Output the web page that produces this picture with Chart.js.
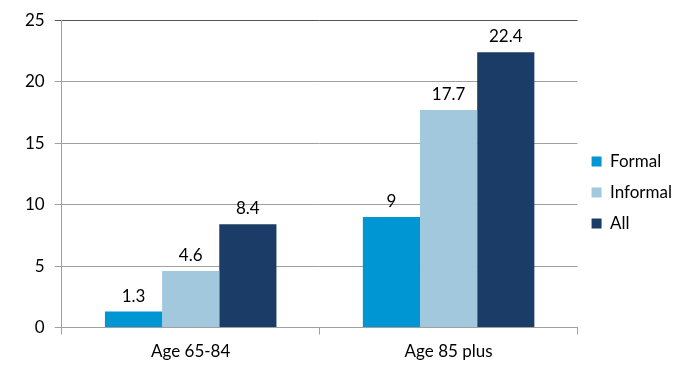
<!DOCTYPE html>
<html>
<head>
<meta charset="utf-8">
<script src="https://cdn.jsdelivr.net/npm/chart.js@4"></script>
<style>
html,body{margin:0;padding:0;background:#fff;}
#wrap{width:696px;height:373px;position:relative;}
</style>
</head>
<body>
<div id="wrap"><canvas id="c" width="696" height="373"></canvas></div>
<script>
const categories = ["Age 65-84", "Age 85 plus"];
const seriesNames = ["Formal", "Informal", "All"];
const formalValues = [1.3, 9];
const informalValues = [4.6, 17.7];
const allValues = [8.4, 22.4];
const yTicks = [0, 5, 10, 15, 20, 25];

const colors = ["#0096d3", "#a2c8de", "#1a3c66"];
const FONT = "Lato, 'Open Sans', sans-serif";

const valueLabels = {
  id: 'valueLabels',
  afterDatasetsDraw(chart) {
    const ctx = chart.ctx;
    ctx.save();
    ctx.font = "17px " + FONT;
    ctx.fillStyle = "#000";
    ctx.textAlign = "center";
    ctx.textBaseline = "bottom";
    chart.data.datasets.forEach((ds, i) => {
      const meta = chart.getDatasetMeta(i);
      meta.data.forEach((bar, j) => {
        ctx.fillText(String(ds.data[j]), bar.x, bar.y - 7);
      });
    });
    ctx.restore();
  }
};

new Chart(document.getElementById('c'), {
  type: 'bar',
  data: {
    labels: categories,
    datasets: [
      { label: seriesNames[0], data: formalValues, backgroundColor: colors[0] },
      { label: seriesNames[1], data: informalValues, backgroundColor: colors[1] },
      { label: seriesNames[2], data: allValues, backgroundColor: colors[2] }
    ]
  },
  options: {
    responsive: false,
    animation: false,
    devicePixelRatio: 1,
    layout: { padding: { left: 15, right: 14, top: 16, bottom: 4 } },
    datasets: { bar: { categoryPercentage: 0.665, barPercentage: 1.0 } },
    plugins: {
      legend: {
        position: 'right',
        align: 'center',
        labels: {
          boxWidth: 10,
          boxHeight: 10,
          padding: 14,
          color: "#000",
          font: { family: FONT, size: 17 }
        }
      },
      tooltip: { enabled: false }
    },
    scales: {
      x: {
        offset: true,
        grid: { offset: true, drawOnChartArea: false, drawTicks: true, tickLength: 7, color: "#a0a0a0" },
        border: { color: "#a0a0a0" },
        ticks: { color: "#000", font: { family: FONT, size: 17 }, padding: 7 }
      },
      y: {
        min: 0, max: 25,
        afterBuildTicks(axis) { axis.ticks = yTicks.map(v => ({ value: v })); },
        grid: {
          color: (c) => (c.tick && c.tick.value === 25) ? "#555555" : "#a0a0a0",
          tickLength: 7
        },
        border: { color: "#a0a0a0" },
        ticks: { color: "#000", font: { family: FONT, size: 17 }, padding: 10 }
      }
    }
  },
  plugins: [valueLabels]
});
</script>
</body>
</html>
